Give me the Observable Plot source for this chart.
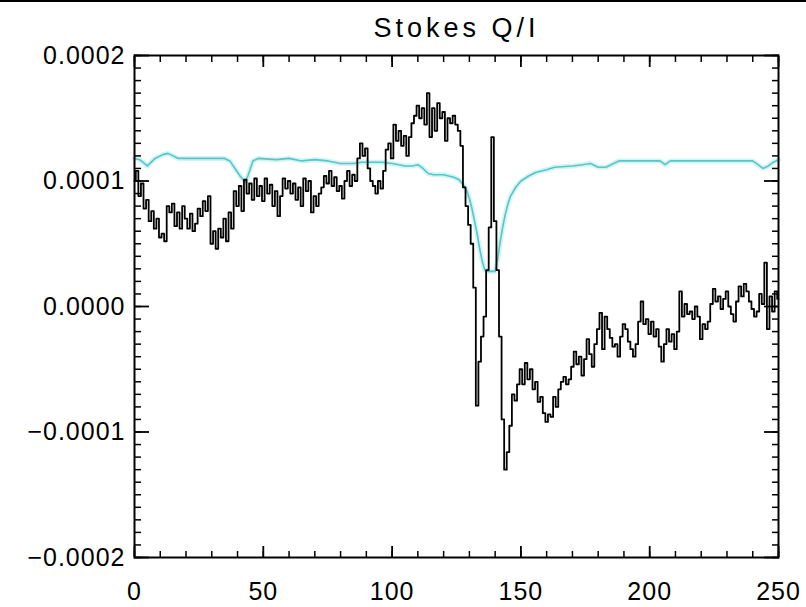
<!DOCTYPE html>
<html>
<head>
<meta charset="utf-8">
<script src="https://cdn.jsdelivr.net/npm/d3@7"></script>
<script src="https://cdn.jsdelivr.net/npm/@observablehq/plot@0.6"></script>
<style>
  body { margin: 0; background: #fff; }
  #topbar { position: absolute; left: 0; top: 0; width: 806px; height: 2px; background: #000; }
</style>
</head>
<body>
<div id="topbar"></div>
<div id="chart"></div>
<script>
// Stokes Q/I spectrum (black, units of 1e-6), one value per pixel index 0..250
const qiValues = [
  100,108,88,98,78,85,68,76,62,70,
  55,58,52,80,75,82,64,75,62,80,
  70,62,74,60,66,78,72,84,76,88,
  50,60,46,62,55,70,52,75,62,92,
  80,96,76,101,90,98,85,102,88,96,
  84,102,90,97,80,92,72,88,102,94,
  100,90,98,85,95,80,102,92,100,75,
  88,80,90,95,104,98,108,96,103,92,
  96,86,100,108,96,105,100,118,130,120,
  126,110,100,96,90,100,94,108,125,130,
  118,145,132,140,128,136,120,135,146,152,
  160,150,158,145,170,135,158,140,162,150,
  155,132,150,146,152,145,140,128,95,80,
  65,50,15,-79,-44,-24,-8,29,63,135,
  68,29,-24,-90,-130,-116,-95,-70,-75,-62,
  -50,-62,-45,-58,-50,-66,-60,-76,-72,-85,
  -92,-86,-88,-72,-80,-66,-60,-56,-62,-58,
  -48,-36,-46,-40,-55,-42,-26,-38,-48,-30,
  -18,-5,-34,-8,-18,-25,-32,-30,-40,-24,
  -14,-18,-28,-34,-40,-30,-12,4,-14,-10,
  -22,-12,-24,-18,-32,-44,-30,-18,-28,-22,
  -34,-20,12,-8,2,-6,-4,-10,0,-8,
  -26,-14,-18,-12,2,14,4,8,-2,6,
  12,0,-6,-12,4,16,8,18,12,4,
  -2,-8,-4,10,2,35,-18,8,-4,12,
  6
];
// Cyan reference profile (units of 1e-6)
const cyanX = [0,2,5,8,11,13,15,17,25,35,37,39,41,43,44,46,48,55,60,65,70,75,80,85,88,92,96,100,105,108,110,112,114,116,120,124,126,128,129,130,131,132,133,134,135,136,137,140,141,142,143,144,145,146,148,150,153,156,160,163,170,174,177,180,183,186,188,200,204,206,208,220,230,240,242,244,246,248,250];
const cyanValues = [118,117,112,118,121,122,120,118,118,118,116,110,104,99,104,116,118,117,118,116,117,116,114,114,115,115,115,114,112,112,113,110,106,105,105,103,101,96,92,86,78,68,58,46,36,29,28,28,38,52,64,74,82,88,95,100,104,107,109,111,112,113,114,111,111,114,116,116,116,113,116,116,116,116,113,110,112,115,117];

const xMajorTicks = [0, 50, 100, 150, 200, 250];
const yMajorTicks = [-0.0002, -0.0001, 0, 0.0001, 0.0002];
const xMinorTicks = d3.range(0, 251, 10);
const yMinorTicks = d3.range(-20, 21).map(i => i * 1e-5);
const titleText = "Stokes Q/I";

const blackData = qiValues.map((v, i) => ({x: i, y: v * 1e-6}));
const cyanData = cyanX.map((x, i) => ({x, y: cyanValues[i] * 1e-6}));

const fmtY = d3.format(".4f");

const chart = Plot.plot({
  width: 806,
  height: 607,
  marginLeft: 134,
  marginRight: 28,
  marginTop: 55,
  marginBottom: 50,
  style: {fontFamily: "Liberation Sans, Arial, sans-serif", background: "#fff"},
  x: {domain: [0, 250]},
  y: {domain: [-0.0002, 0.0002]},
  marks: [
    Plot.line(cyanData, {x: "x", y: "y", stroke: "#c6f2f2", strokeWidth: 5, strokeOpacity: 0.8}),
    Plot.line(cyanData, {x: "x", y: "y", stroke: "#5cc3c6", strokeWidth: 1.6}),
    Plot.line(blackData, {x: "x", y: "y", curve: "step", stroke: "#000", strokeWidth: 1.8}),
    Plot.frame({stroke: "#000", strokeWidth: 2}),
    Plot.axisX(xMinorTicks, {anchor: "bottom", tickSize: -6, tickFormat: () => "", strokeWidth: 1.5, label: null}),
    Plot.axisX(xMajorTicks, {anchor: "bottom", tickSize: -11, tickFormat: () => "", strokeWidth: 1.8, label: null}),
    Plot.axisX(xMinorTicks, {anchor: "top", tickSize: -6, tickFormat: () => "", strokeWidth: 1.5, label: null}),
    Plot.axisX(xMajorTicks, {anchor: "top", tickSize: -11, tickFormat: () => "", strokeWidth: 1.8, label: null}),
    Plot.axisY(yMinorTicks, {anchor: "left", tickSize: -7, tickFormat: () => "", strokeWidth: 1.5, label: null}),
    Plot.axisY(yMajorTicks, {anchor: "left", tickSize: -15, tickFormat: () => "", strokeWidth: 1.8, label: null}),
    Plot.axisY(yMinorTicks, {anchor: "right", tickSize: -7, tickFormat: () => "", strokeWidth: 1.5, label: null}),
    Plot.axisY(yMajorTicks, {anchor: "right", tickSize: -15, tickFormat: () => "", strokeWidth: 1.8, label: null}),
    Plot.axisX(xMajorTicks, {anchor: "bottom", tickSize: 0, tickPadding: 25, fontSize: 25, tickFormat: d => String(d), label: null, fill: "#000"}),
    Plot.axisY(yMajorTicks, {anchor: "left", tickSize: 0, tickPadding: 9, fontSize: 25, tickFormat: d => fmtY(d), label: null, fill: "#000"}),
    Plot.text([titleText], {frameAnchor: "top", lineAnchor: "middle", dy: -27, fontSize: 27, fill: "#000"})
  ]
});
d3.select(chart).selectAll("text")
  .filter(function() { return this.textContent === titleText; })
  .style("letter-spacing", "4px");
d3.select(chart).selectAll("text")
  .filter(function() { return /^[−\-]?\d/.test(this.textContent); })
  .style("letter-spacing", "1px");
document.getElementById("chart").appendChild(chart);
</script>
</body>
</html>
